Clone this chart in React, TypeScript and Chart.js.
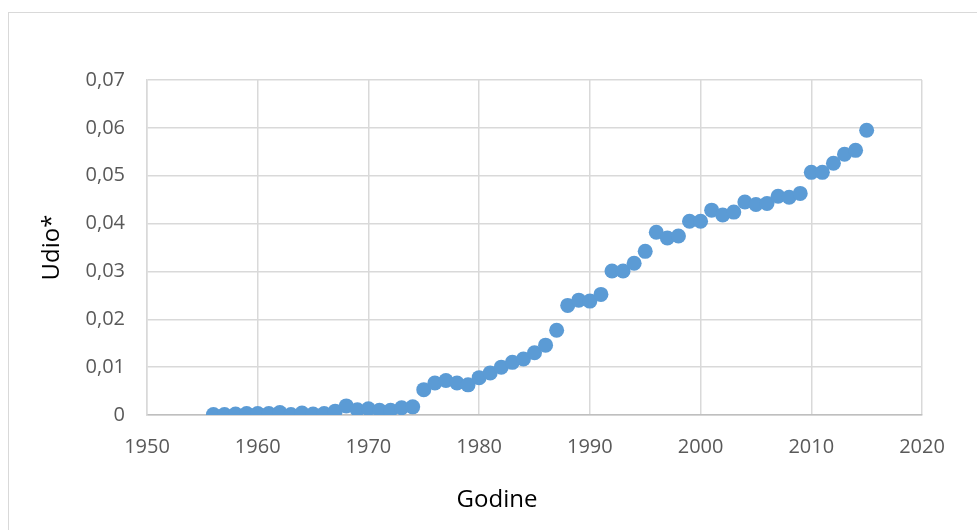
import React, { useEffect, useRef } from "react";
import { Chart, registerables } from "chart.js";

Chart.register(...registerables);

const years: number[] = [
  1956, 1957, 1958, 1959, 1960, 1961, 1962, 1963, 1964, 1965,
  1966, 1967, 1968, 1969, 1970, 1971, 1972, 1973, 1974, 1975,
  1976, 1977, 1978, 1979, 1980, 1981, 1982, 1983, 1984, 1985,
  1986, 1987, 1988, 1989, 1990, 1991, 1992, 1993, 1994, 1995,
  1996, 1997, 1998, 1999, 2000, 2001, 2002, 2003, 2004, 2005,
  2006, 2007, 2008, 2009, 2010, 2011, 2012, 2013, 2014, 2015,
];

const shares: number[] = [
  0.0001, 0.0001, 0.0002, 0.0003, 0.0003, 0.0003, 0.0005, 0.0001, 0.0004, 0.0002,
  0.0003, 0.0008, 0.0019, 0.0011, 0.0013, 0.001, 0.001, 0.0015, 0.0017, 0.0053,
  0.0067, 0.0072, 0.0067, 0.0063, 0.0078, 0.0088, 0.01, 0.011, 0.0117, 0.013,
  0.0146, 0.0177, 0.0229, 0.024, 0.0238, 0.0252, 0.0301, 0.0301, 0.0317, 0.0342,
  0.0382, 0.037, 0.0374, 0.0405, 0.0405, 0.0428, 0.0418, 0.0424, 0.0445, 0.044,
  0.0442, 0.0457, 0.0455, 0.0463, 0.0507, 0.0507, 0.0526, 0.0545, 0.0553, 0.0595,
];

const xTitle = "Godine";
const yTitle = "Udio*";

const xTitlePlugin = {
  id: "xTitlePlugin",
  afterDraw(chart: any) {
    const ctx = chart.ctx;
    ctx.save();
    ctx.font = "24px 'Open Sans'";
    ctx.fillStyle = "#000000";
    ctx.textAlign = "center";
    ctx.textBaseline = "middle";
    ctx.fillText(xTitle, 497, 500);
    ctx.restore();
  },
};

export default function App() {
  const ref = useRef<HTMLCanvasElement | null>(null);

  useEffect(() => {
    if (!ref.current) return;
    const chart = new Chart(ref.current, {
      type: "scatter",
      data: {
        datasets: [
          {
            data: years.map((y, i) => ({ x: y, y: shares[i] })),
            backgroundColor: "#5B9BD5",
            borderWidth: 0,
            pointRadius: 7.5,
            pointHoverRadius: 7.5,
          },
        ],
      },
      plugins: [xTitlePlugin],
      options: {
        responsive: false,
        animation: false,
        layout: { padding: { top: 80, left: 34, right: 55, bottom: 12 } },
        plugins: { legend: { display: false }, tooltip: { enabled: false } },
        scales: {
          x: {
            type: "linear",
            min: 1950,
            max: 2020,
            afterFit: (s: any) => {
              s.height = 103;
            },
            ticks: {
              stepSize: 10,
              padding: 20,
              color: "#595959",
              font: { family: "Open Sans", size: 20 },
              callback: (v: any) => String(v),
            },
            grid: { color: "#d9d9d9", lineWidth: 1.5, drawTicks: false },
            border: { color: "#bfbfbf", width: 1.5 },
            title: { display: false },
          },
          y: {
            min: 0,
            max: 0.07,
            afterFit: (s: any) => {
              s.width = 113;
            },
            ticks: {
              stepSize: 0.01,
              padding: 22,
              color: "#595959",
              font: { family: "Open Sans", size: 20 },
              callback: (v: any) => (Number(v) === 0 ? "0" : Number(v).toFixed(2).replace(".", ",")),
            },
            grid: { color: "#d9d9d9", lineWidth: 1.5, drawTicks: false },
            border: { color: "#d9d9d9", width: 1.5 },
            title: {
              display: true,
              text: yTitle,
              color: "#000000",
              font: { family: "Open Sans", size: 24 },
            },
          },
        },
      },
    });
    return () => chart.destroy();
  }, []);

  return (
    <div style={{ position: "fixed", left: 0, top: 0, width: 977, height: 530, background: "#ffffff" }}>
      <div
        style={{
          position: "absolute",
          left: 8,
          top: 12,
          width: 990,
          height: 540,
          border: "1px solid #d9d9d9",
          boxSizing: "border-box",
        }}
      />
      <canvas ref={ref} width={977} height={530} style={{ position: "absolute", left: 0, top: 0 }} />
    </div>
  );
}
